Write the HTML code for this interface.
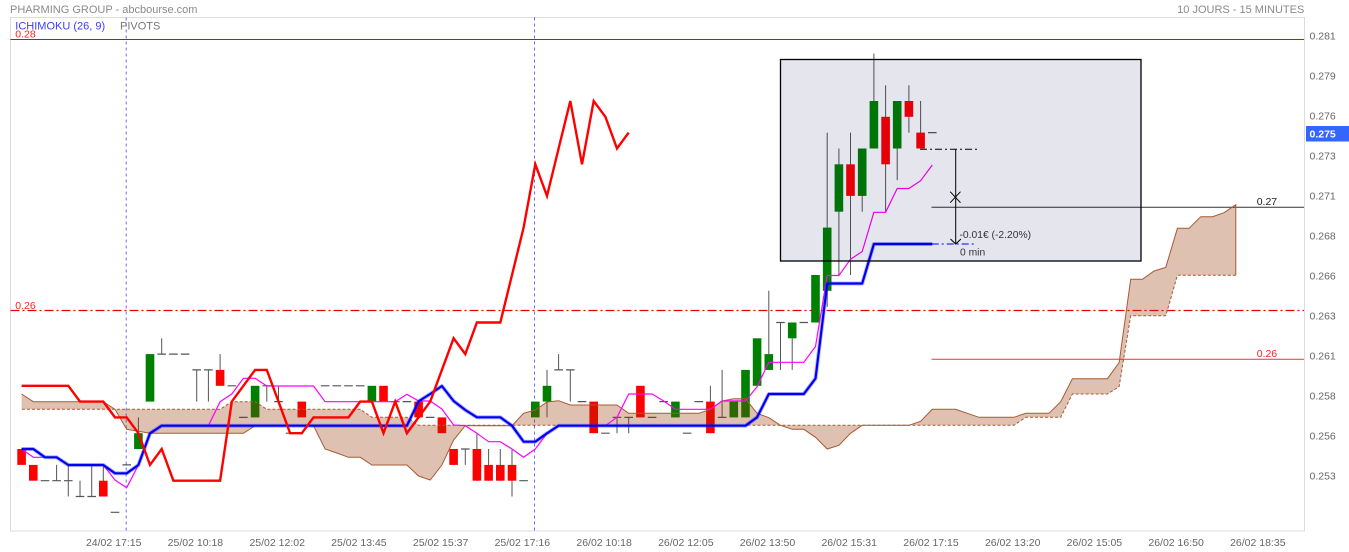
<!DOCTYPE html>
<html><head><meta charset="utf-8"><style>
html,body{margin:0;padding:0;background:#fff;}
svg{display:block;font-family:"Liberation Sans",Arial,sans-serif;}
</style></head><body>
<svg width="1349" height="552" viewBox="0 0 1349 552" xmlns="http://www.w3.org/2000/svg">
<rect x="0" y="0" width="1349" height="552" fill="#fff"/>
<!-- header -->
<text x="10" y="13" font-size="11" fill="#8a8a8a">PHARMING GROUP - abcbourse.com</text>
<text x="1304.3" y="13" font-size="11" fill="#8a8a8a" text-anchor="end">10 JOURS - 15 MINUTES</text>
<!-- frame -->
<rect x="10.5" y="17.5" width="1294" height="513.5" fill="none" stroke="#dcdcdc" stroke-width="1"/>
<!-- pivot lines -->
<line x1="10.5" y1="39.5" x2="1304" y2="39.5" stroke="#ee0000" stroke-width="1.1"/>
<line x1="10.5" y1="310.5" x2="1304" y2="310.5" stroke="#ee0000" stroke-width="1.3" stroke-dasharray="9,3,2,3"/>
<line x1="931.5" y1="207.3" x2="1304" y2="207.3" stroke="#333" stroke-width="1"/>
<line x1="931.5" y1="359.3" x2="1304" y2="359.3" stroke="#ee3333" stroke-width="1"/>
<!-- separators -->
<line x1="126.2" y1="17.5" x2="126.2" y2="531" stroke="#6a6aff" stroke-width="1" stroke-dasharray="3,3"/>
<line x1="534.5" y1="17.5" x2="534.5" y2="531" stroke="#6a6aff" stroke-width="1" stroke-dasharray="3,3"/>
<!-- wicks -->
<path fill="none" stroke="#555" stroke-width="1" d="M56.6 464.9V480.7M68.3 464.9V496.5M80 480.7V496.5M91.7 464.9V496.5M103.3 464.9V496.5M138.4 417.4V449M161.7 338.3V354.1M196.7 369.9V401.6M208.4 369.9V401.6M220.1 354.1V385.8M266.8 385.8V401.6M278.5 385.8V401.6M465.3 449V464.9M476.9 433.2V480.7M488.6 449V480.7M500.3 449V480.7M512 449V496.5M547 369.9V417.4M558.6 354.1V369.9M570.3 369.9V401.6M617 417.4V433.2M628.7 417.4V433.2M710.4 385.8V433.2M722.1 369.9V417.4M768.8 290.8V369.9M780.5 322.5V369.9M792.2 322.5V369.9M827.2 132.6V306.7M838.9 148.5V275M850.5 132.6V275M862.2 148.5V211.7M873.9 53.5V148.5M885.6 85.2V211.7M897.2 101V180.1M908.9 85.2V132.6M920.6 101V148.5"/>
<!-- dashes (doji) -->
<path fill="none" stroke="#555" stroke-width="1.2" d="M40.7 480.7h8.6M52.3 480.7h8.6M64 480.7h8.6M75.7 496.5h8.6M87.4 496.5h8.6M110.7 512.3h8.6M122.4 464.9h8.6M157.4 354.1h8.6M169.1 354.1h8.6M180.8 354.1h8.6M192.4 369.9h8.6M204.1 369.9h8.6M227.5 385.8h8.6M239.1 417.4h8.6M262.5 385.8h8.6M274.2 401.6h8.6M285.8 433.2h8.6M320.8 385.8h8.6M332.5 385.8h8.6M344.2 385.8h8.6M355.9 385.8h8.6M390.9 401.6h8.6M402.6 401.6h8.6M425.9 417.4h8.6M461 449h8.6M519.3 480.7h8.6M554.3 369.9h8.6M566 369.9h8.6M577.7 401.6h8.6M601.1 433.2h8.6M612.7 417.4h8.6M624.4 417.4h8.6M647.8 417.4h8.6M659.4 401.6h8.6M682.8 433.2h8.6M694.5 401.6h8.6M717.8 417.4h8.6M776.2 322.5h8.6M799.5 322.5h8.6M928 132.6h8.6"/>
<!-- red bodies -->
<g fill="#ff0000">
<rect x="17.3" y="449" width="8.6" height="15.9"/>
<rect x="29" y="464.9" width="8.6" height="15.8"/>
<rect x="99" y="480.7" width="8.6" height="15.8"/>
<rect x="215.8" y="369.9" width="8.6" height="15.9"/>
<rect x="297.5" y="401.6" width="8.6" height="15.8"/>
<rect x="379.2" y="385.8" width="8.6" height="15.8"/>
<rect x="414.3" y="401.6" width="8.6" height="15.8"/>
<rect x="437.6" y="417.4" width="8.6" height="15.8"/>
<rect x="449.3" y="449" width="8.6" height="15.9"/>
<rect x="472.6" y="449" width="8.6" height="31.7"/>
<rect x="484.3" y="464.9" width="8.6" height="15.8"/>
<rect x="496" y="464.9" width="8.6" height="15.8"/>
<rect x="507.7" y="464.9" width="8.6" height="15.8"/>
<rect x="589.4" y="401.6" width="8.6" height="31.6"/>
<rect x="636.1" y="385.8" width="8.6" height="31.6"/>
<rect x="706.1" y="401.6" width="8.6" height="31.6"/>
<rect x="846.2" y="164.3" width="8.6" height="31.6"/>
<rect x="881.3" y="116.8" width="8.6" height="47.5"/>
<rect x="904.6" y="101" width="8.6" height="15.8"/>
<rect x="916.3" y="132.6" width="8.6" height="15.9"/>
</g>
<!-- green bodies -->
<g fill="#008000">
<rect x="134.1" y="433.2" width="8.6" height="15.8"/>
<rect x="145.7" y="354.1" width="8.6" height="47.5"/>
<rect x="250.8" y="385.8" width="8.6" height="31.6"/>
<rect x="367.6" y="385.8" width="8.6" height="15.8"/>
<rect x="531" y="401.6" width="8.6" height="15.8"/>
<rect x="542.7" y="385.8" width="8.6" height="15.8"/>
<rect x="671.1" y="401.6" width="8.6" height="15.8"/>
<rect x="729.5" y="401.6" width="8.6" height="15.8"/>
<rect x="741.2" y="369.9" width="8.6" height="47.5"/>
<rect x="752.8" y="338.3" width="8.6" height="47.5"/>
<rect x="764.5" y="354.1" width="8.6" height="15.8"/>
<rect x="787.9" y="322.5" width="8.6" height="15.8"/>
<rect x="811.2" y="275" width="8.6" height="47.5"/>
<rect x="822.9" y="227.6" width="8.6" height="63.2"/>
<rect x="834.6" y="164.3" width="8.6" height="47.4"/>
<rect x="857.9" y="148.5" width="8.6" height="47.4"/>
<rect x="869.6" y="101" width="8.6" height="47.5"/>
<rect x="892.9" y="101" width="8.6" height="47.5"/>
</g>
<!-- cloud -->
<polygon fill="rgba(150,50,0,0.3)" stroke="none" points="21.6,394 33.3,401.7 103.3,401.7 115,409.3 126.7,429.3 138.4,431.3 150,433.3 243.4,433.3 255.1,425.7 313.5,425.7 325.1,449 336.8,453 348.5,457.3 360.2,457.3 371.9,465 406.9,465 418.6,476 430.2,480 441.9,465 453.6,440 465.3,425.7 512,425.7 523.6,413.3 535.3,410 547,402 558.6,400.7 570.3,405 617,405 628.7,413.3 698.8,413.3 710.4,409.3 722.1,401 733.8,398.7 745.5,398.7 757.1,413.3 768.8,417.7 780.5,425.3 792.2,429.3 803.8,429.3 815.5,437.3 827.2,449 838.9,445.3 850.5,433.3 862.2,425.3 908.9,425.3 920.6,421.3 932.3,409.3 955.6,409.3 967.3,413.3 979,417.3 1014,417.3 1025.7,413.3 1049,413.3 1060.7,401.7 1072.4,378.7 1107.4,378.7 1119.1,362.7 1130.7,279.3 1142.4,279.3 1154.1,271 1165.8,267.3 1177.4,228.3 1189.1,228.3 1200.8,216.7 1212.5,216.7 1224.1,212.7 1235.8,204.7 1235.8,275.3 1177.4,275.3 1165.8,315.7 1130.7,315.7 1119.1,386.7 1107.4,394 1072.4,394 1060.7,417.3 1025.7,417.3 1014,425.3 418.6,425.3 406.9,417.3 371.9,417.3 360.2,409.3 266.8,409.3 255.1,401.7 231.8,401.7 220.1,409.3 21.6,409.3"/>
<polyline fill="none" stroke="#a85a32" stroke-width="1" points="21.6,394 33.3,401.7 103.3,401.7 115,409.3 126.7,429.3 138.4,431.3 150,433.3 243.4,433.3 255.1,425.7 313.5,425.7 325.1,449 336.8,453 348.5,457.3 360.2,457.3 371.9,465 406.9,465 418.6,476 430.2,480 441.9,465 453.6,440 465.3,425.7 512,425.7 523.6,413.3 535.3,410 547,402 558.6,400.7 570.3,405 617,405 628.7,413.3 698.8,413.3 710.4,409.3 722.1,401 733.8,398.7 745.5,398.7 757.1,413.3 768.8,417.7 780.5,425.3 792.2,429.3 803.8,429.3 815.5,437.3 827.2,449 838.9,445.3 850.5,433.3 862.2,425.3 908.9,425.3 920.6,421.3 932.3,409.3 955.6,409.3 967.3,413.3 979,417.3 1014,417.3 1025.7,413.3 1049,413.3 1060.7,401.7 1072.4,378.7 1107.4,378.7 1119.1,362.7 1130.7,279.3 1142.4,279.3 1154.1,271 1165.8,267.3 1177.4,228.3 1189.1,228.3 1200.8,216.7 1212.5,216.7 1224.1,212.7 1235.8,204.7 1235.8,275.3"/>
<polyline fill="none" stroke="#a85a32" stroke-width="1" stroke-dasharray="3,2" points="1235.8,275.3 1177.4,275.3 1165.8,315.7 1130.7,315.7 1119.1,386.7 1107.4,394 1072.4,394 1060.7,417.3 1025.7,417.3 1014,425.3 418.6,425.3 406.9,417.3 371.9,417.3 360.2,409.3 266.8,409.3 255.1,401.7 231.8,401.7 220.1,409.3 21.6,409.3"/>
<!-- tenkan (magenta) -->
<polyline fill="none" stroke="#ff00ff" stroke-width="1.2" stroke-linejoin="round" points="21.6,449 33.3,457.3 56.6,457.3 68.3,465 103.3,465 115,480 126.7,487.7 138.4,465 150,434 161.7,425.7 208.4,425.7 220.1,401.7 231.8,394 243.4,378.3 255.1,378.3 266.8,386 313.5,386 325.1,401.7 395.2,401.7 406.9,394.3 418.6,401 430.2,401 441.9,409 453.6,425 465.3,425.7 476.9,433.3 488.6,441.7 500.3,441.7 512,449 523.6,457.3 535.3,449 547,433.3 558.6,425.7 605.4,425.7 617,417.3 628.7,394 652.1,394 663.7,401 675.4,409.3 710.4,409.3 722.1,401 745.5,401 757.1,386.7 768.8,362.3 803.8,362.3 815.5,346.5 827.2,275.5 838.9,275.5 850.5,259.3 862.2,251.5 873.9,212.3 885.6,212.3 897.2,188.5 908.9,188.5 920.6,180.7 932.3,165"/>
<!-- kijun (blue) -->
<polyline fill="none" stroke="rgba(40,40,255,0.35)" stroke-width="4" stroke-linejoin="round" points="21.6,449 33.3,449 45,457.3 56.6,457.3 68.3,465 103.3,465 115,473.3 126.7,473.3 138.4,465 150,433.3 161.7,425.7 406.9,425.7 418.6,401.3 430.2,394 441.9,386 453.6,401 465.3,410 476.9,417.3 500.3,417.3 512,425.7 523.6,441.7 535.3,441.7 547,433.3 558.6,425.7 745.5,425.7 757.1,417.3 768.8,394 803.8,394 815.5,378.5 827.2,283.5 862.2,283.5 873.9,244 932.3,244"/>
<polyline fill="none" stroke="#0000f0" stroke-width="2.2" stroke-linejoin="round" points="21.6,449 33.3,449 45,457.3 56.6,457.3 68.3,465 103.3,465 115,473.3 126.7,473.3 138.4,465 150,433.3 161.7,425.7 406.9,425.7 418.6,401.3 430.2,394 441.9,386 453.6,401 465.3,410 476.9,417.3 500.3,417.3 512,425.7 523.6,441.7 535.3,441.7 547,433.3 558.6,425.7 745.5,425.7 757.1,417.3 768.8,394 803.8,394 815.5,378.5 827.2,283.5 862.2,283.5 873.9,244 932.3,244"/>
<!-- chikou (red) -->
<polyline fill="none" stroke="#ff0000" stroke-width="2.4" stroke-linejoin="miter" points="21.6,385.8 68.3,385.8 80,401.6 103.3,401.6 115,417.4 126.7,417.4 138.4,433.2 150,464.9 161.7,449 173.4,480.7 220.1,480.7 231.8,401.6 243.4,385.8 255.1,369.9 266.8,369.9 278.5,401.6 290.1,433.2 301.8,433.2 313.5,417.4 348.5,417.4 360.2,401.6 371.9,401.6 383.5,433.2 395.2,401.6 406.9,433.2 418.6,417.4 430.2,401.6 441.9,369.9 453.6,338.3 465.3,354.1 476.9,322.5 500.3,322.5 512,275 523.6,227.6 535.3,164.3 547,195.9 558.6,148.5 570.3,101 582,164.3 593.7,101 605.4,116.8 617,148.5 628.7,132.6"/>
<!-- selection box -->
<rect x="780.5" y="59.5" width="360.5" height="201.5" fill="rgba(0,0,90,0.1)" stroke="#000" stroke-width="1.3"/>
<!-- measurement -->
<line x1="920" y1="149.3" x2="978.3" y2="149.3" stroke="#000" stroke-width="1" stroke-dasharray="7,3,2,3"/>
<line x1="931.7" y1="244" x2="976.7" y2="244" stroke="#0000ff" stroke-width="1" stroke-dasharray="7,3,2,3"/>
<line x1="955.7" y1="149.3" x2="955.7" y2="244" stroke="#000" stroke-width="1"/>
<path d="M950.5 239L955.7 244L960.9 239" fill="none" stroke="#000" stroke-width="1"/>
<path d="M950.2 191.7L960.5 202.7M960.5 191.7L950.2 202.7" fill="none" stroke="#000" stroke-width="1"/>
<text x="959.5" y="238" font-size="10.3" fill="#333">-0.01€ (-2.20%)</text>
<text x="960" y="255.5" font-size="10.3" fill="#333">0 min</text>
<!-- legend -->
<text x="15.3" y="29.3" font-size="11" fill="#3c3cff">ICHIMOKU (26, 9)</text>
<text x="120" y="29.3" font-size="11" fill="#777">PIVOTS</text>
<text x="15.3" y="37.6" font-size="10.5" fill="#ff2020">0.28</text>
<text x="15.3" y="308.8" font-size="10.5" fill="#ff2020">0.26</text>
<text x="1256.7" y="205" font-size="10.5" fill="#222">0.27</text>
<text x="1256.7" y="357" font-size="10.5" fill="#ff2020">0.26</text>
<!-- y axis labels -->
<g font-size="10.5" fill="#666">
<text x="1309.5" y="39.3">0.281</text>
<text x="1309.5" y="79.3">0.279</text>
<text x="1309.5" y="119.3">0.276</text>
<text x="1309.5" y="159.3">0.273</text>
<text x="1309.5" y="199.3">0.271</text>
<text x="1309.5" y="239.3">0.268</text>
<text x="1309.5" y="279.3">0.266</text>
<text x="1309.5" y="319.3">0.263</text>
<text x="1309.5" y="359.3">0.261</text>
<text x="1309.5" y="399.3">0.258</text>
<text x="1309.5" y="439.3">0.256</text>
<text x="1309.5" y="479.3">0.253</text>
</g>
<rect x="1306" y="126" width="43" height="15.5" fill="#3366ff"/>
<text x="1309.5" y="137.6" font-size="10.5" font-weight="bold" fill="#fff">0.275</text>
<!-- x axis labels -->
<g font-size="10.5" fill="#666" text-anchor="middle">
<text x="113.7" y="545.8">24/02 17:15</text>
<text x="195.4" y="545.8">25/02 10:18</text>
<text x="277.2" y="545.8">25/02 12:02</text>
<text x="358.9" y="545.8">25/02 13:45</text>
<text x="440.6" y="545.8">25/02 15:37</text>
<text x="522.3" y="545.8">25/02 17:16</text>
<text x="604.1" y="545.8">26/02 10:18</text>
<text x="685.8" y="545.8">26/02 12:05</text>
<text x="767.5" y="545.8">26/02 13:50</text>
<text x="849.2" y="545.8">26/02 15:31</text>
<text x="931" y="545.8">26/02 17:15</text>
<text x="1012.7" y="545.8">26/02 13:20</text>
<text x="1094.4" y="545.8">26/02 15:05</text>
<text x="1176.1" y="545.8">26/02 16:50</text>
<text x="1257.8" y="545.8">26/02 18:35</text>
</g>
</svg>
</body></html>
